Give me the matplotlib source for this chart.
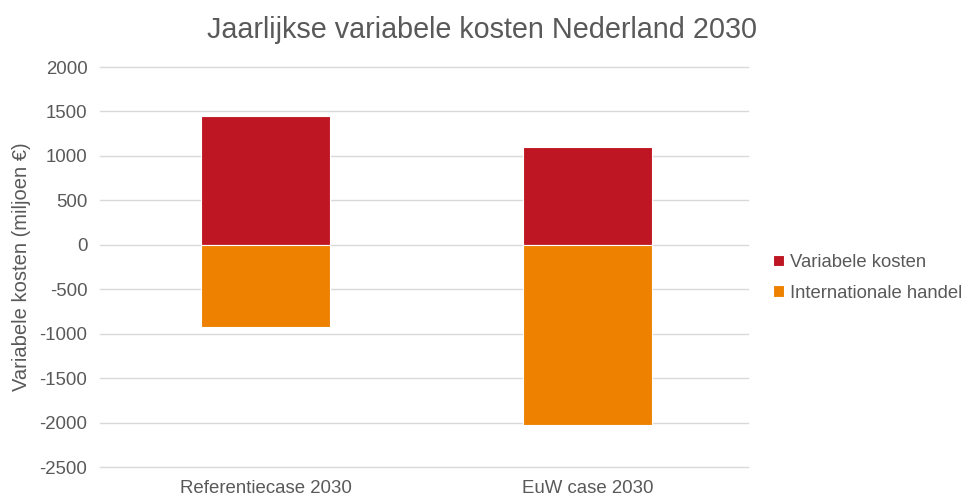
import matplotlib
matplotlib.use("Agg")
import matplotlib.pyplot as plt
import numpy as np

categories = ["Referentiecase 2030", "EuW case 2030"]
variabele_kosten = [1450, 1095]
internationale_handel = [-930, -2030]
series_names = ["Variabele kosten", "Internationale handel"]
yticks = [2000, 1500, 1000, 500, 0, -500, -1000, -1500, -2000, -2500]

red = "#BE1622"
orange = "#EE8100"
txt = "#595959"

fig = plt.figure(figsize=(9.65, 4.98), dpi=100)
ax = fig.add_axes([100/965, 1-467/498, 648/965, 400/498])

x = np.arange(len(categories))
ax.bar(x, variabele_kosten, width=0.4, color=red, edgecolor="white", linewidth=0.8,
       label=series_names[0], zorder=3)
ax.bar(x, internationale_handel, width=0.4, color=orange, edgecolor="white", linewidth=0.8,
       label=series_names[1], zorder=3)

ax.set_xlim(-0.514, 1.498)
ax.set_ylim(-2500, 2000)
ax.set_yticks(yticks)
ax.set_yticklabels([str(v) for v in yticks], fontsize=13.4, color=txt, family="Liberation Sans")
ax.set_xticks(x)
ax.set_xticklabels(categories, fontsize=13.4, color=txt, family="Liberation Sans")
ax.tick_params(axis="y", length=0, pad=9)
ax.tick_params(axis="x", length=0, pad=9)
ax.grid(axis="y", color="#d9d9d9", linewidth=1, zorder=0)
for gl in ax.get_ygridlines():
    gl.set_clip_on(False)
for s in ax.spines.values():
    s.set_visible(False)

ax.set_ylabel("Variabele kosten (miljoen €)", fontsize=14.5, color=txt,
              family="Liberation Sans", labelpad=6)

fig.text(482/965, 1-30/498, "Jaarlijkse variabele kosten Nederland 2030", ha="center", va="center",
         fontsize=20.7, color=txt, family="Liberation Sans")

leg = fig.legend(loc="upper left", bbox_to_anchor=(773/965, 1-254/498), frameon=False,
                 handlelength=0.6, handleheight=0.6, handletextpad=0.3, labelspacing=0.75,
                 prop={"family": "Liberation Sans", "size": 13.3}, borderaxespad=0, borderpad=0)
for t in leg.get_texts():
    t.set_color(txt)

fig.savefig("out.png", dpi=100)
